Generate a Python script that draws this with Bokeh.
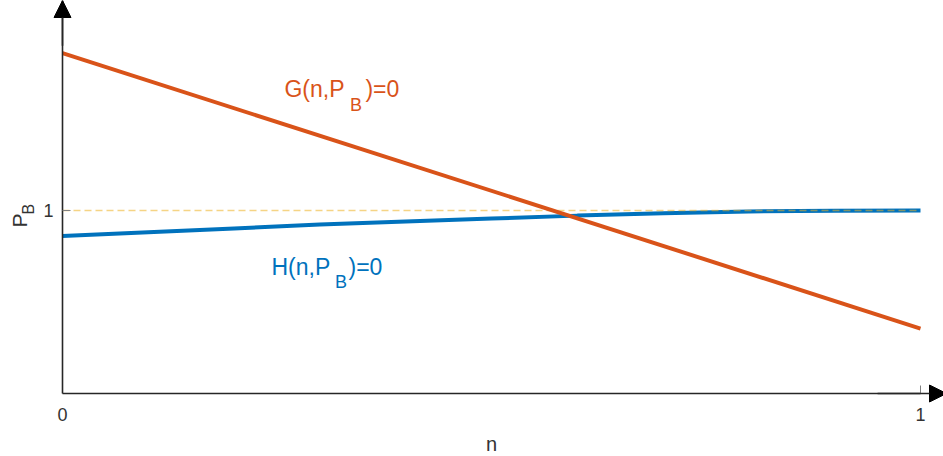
from bokeh.plotting import figure
from bokeh.models import Range1d, FixedTicker, Label, Arrow, NormalHead
from bokeh.embed import file_html
from bokeh.resources import INLINE
from math import pi

# ---- data ----
g_n = [0.0, 1.0]
g_pb = [1.860, 0.355]

h_n = [0.0, 0.1, 0.2, 0.3, 0.4, 0.5, 0.6, 0.7, 0.8, 0.9, 1.0]
h_pb = [0.860, 0.881, 0.902, 0.923, 0.940, 0.956, 0.972, 0.985, 0.995, 0.999, 1.0]

ref_n = [0.0, 1.0]
ref_pb = [1.0, 1.0]

x_ticks = [0, 1]
y_ticks = [1]

FONT = "Liberation Sans"
ORANGE = "#D95319"
BLUE = "#0072BD"
YELLOW = "#EDB120"
AX = "#262626"

XU = 858.0   # px per unit n
YU = 183.0   # px per unit P_B

p = figure(width=943, height=456,
           x_range=Range1d(-62 / XU, 881 / XU), y_range=Range1d(-63 / YU, 393 / YU),
           output_backend="svg", toolbar_location=None, min_border=0)
p.outline_line_color = None
p.grid.visible = False
p.background_fill_color = "white"
p.border_fill_color = "white"

for ax in (p.xaxis[0], p.yaxis[0]):
    ax.fixed_location = 0
    ax.axis_line_color = AX
    ax.axis_line_width = 1.6
    ax.major_tick_in = 8
    ax.major_tick_out = 0
    ax.major_tick_line_color = "#808080"
    ax.major_tick_line_width = 1
    ax.minor_tick_line_color = None
    ax.major_label_text_font = FONT
    ax.major_label_text_font_size = "18px"
    ax.major_label_text_color = "#333333"

p.xaxis.bounds = (0, 1)
p.yaxis.bounds = (0, 393 / YU)
p.xaxis.ticker = FixedTicker(ticks=x_ticks)
p.yaxis.ticker = FixedTicker(ticks=y_ticks)
p.xaxis.major_label_standoff = 14
p.yaxis.major_label_standoff = 9
p.xaxis.axis_label = "n"
p.xaxis.axis_label_text_font = FONT
p.xaxis.axis_label_text_font_size = "20px"
p.xaxis.axis_label_text_font_style = "normal"
p.xaxis.axis_label_text_color = "#333333"
p.xaxis.axis_label_standoff = 9

# curves
p.line(h_n, h_pb, line_color=BLUE, line_width=4)
p.line(ref_n, ref_pb, line_color=YELLOW, line_alpha=0.55, line_width=1.6, line_dash="7 4")
p.line(g_n, g_pb, line_color=ORANGE, line_width=4)

# axis arrow heads
p.add_layout(Arrow(x_start=0, y_start=1.9, x_end=0, y_end=393 / YU,
                   line_color=AX, line_width=1.6,
                   end=NormalHead(size=17, fill_color="black", line_color="black", line_width=1)))
p.add_layout(Arrow(x_start=0.95, y_start=0, x_end=884 / XU, y_end=0,
                   line_color=AX, line_width=1.6,
                   end=NormalHead(size=17, fill_color="black", line_color="black", line_width=1)))

def lab(x, y, text, size, color, angle=0.0):
    p.add_layout(Label(x=x, y=y, text=text, text_font=FONT, text_font_size=size,
                       text_color=color, text_align="left", text_baseline="alphabetic",
                       angle=angle))

# y-axis label P_B (rotated)
lab(-0.0501, 0.9074, "P", "21px", "#333333", pi / 2)
lab(-0.0398, 0.9784, "B", "16px", "#333333", pi / 2)

dy = 0.046
sub = -0.022
# curve labels
lab(0.2587, 1.6175 + dy, "G(n,P", "23px", ORANGE)
lab(0.3350, 1.5546 + dy + sub, "B", "18px", ORANGE)
lab(0.3531, 1.6175 + dy, ")=0", "23px", ORANGE)

lab(0.2436, 0.6475 + dy, "H(n,P", "23px", BLUE)
lab(0.3175, 0.5847 + dy + sub, "B", "18px", BLUE)
lab(0.3333, 0.6475 + dy, ")=0", "23px", BLUE)

open("out.html", "w").write(file_html(p, INLINE))
